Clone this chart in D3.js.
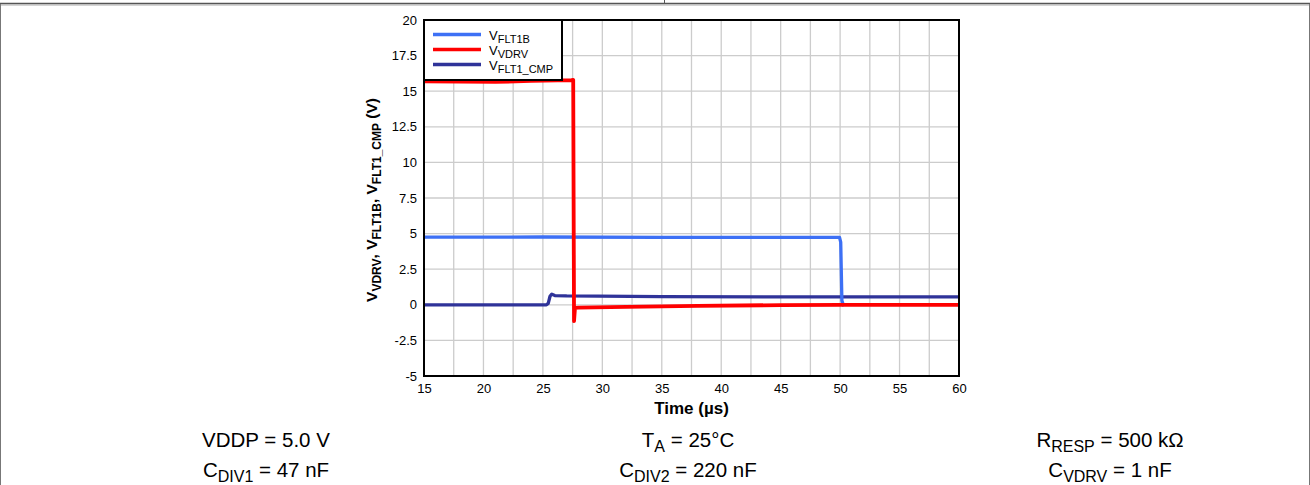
<!DOCTYPE html>
<html><head><meta charset="utf-8">
<script src="https://cdn.jsdelivr.net/npm/d3@7"></script>
<style>body{margin:0;background:#fff;}svg{display:block;font-family:Arial,"Liberation Sans",sans-serif;}</style>
</head><body>
<svg id="c" width="1310" height="485"></svg>
<script>
// ---- data ----
const xTicks = [15,20,25,30,35,40,45,50,55,60];
const yTicks = [-5,-2.5,0,2.5,5,7.5,10,12.5,15,17.5,20];
const gridX = d3.range(15, 60.01, 2.5);
const gridY = d3.range(-5, 20.01, 2.5);
const yTickLabels = ["-5","-2.5","0","2.5","5","7.5","10","12.5","15","17.5","20"];

const fltCmpT = [15, 20, 25.3, 25.45, 25.6, 25.75, 26, 27, 35, 45, 60];
const fltCmpV = [0, 0, 0, 0.1, 0.6, 0.75, 0.65, 0.62, 0.58, 0.56, 0.55];
const flt1bT = [15, 25, 35, 45, 49.95, 50.05, 50.15, 50.3];
const flt1bV = [4.75, 4.76, 4.74, 4.74, 4.73, 4.4, 0.3, -0.1];
const vdrvT = [15, 18, 21, 24, 27.4, 27.55, 27.62, 27.7, 28, 32, 38, 45, 50, 60];
const vdrvV = [15.7, 15.68, 15.65, 15.72, 15.78, 15.8, -1.15, -0.22, -0.2, -0.15, -0.08, -0.02, 0, 0];

const legendNames = [["V","FLT1B"],["V","VDRV"],["V","FLT1_CMP"]];
const colors = ["#3d70f5", "#ff0000", "#2f3399"];

// ---- chart ----
const svg = d3.select("#c");
const x = d3.scaleLinear().domain([15,60]).range([424,959]);
const y = d3.scaleLinear().domain([-5,20]).range([376,20]);

// frame lines
svg.append("line").attr("x1",0).attr("x2",1310).attr("y1",3.5).attr("y2",3.5).attr("stroke","#555").attr("stroke-width",1.5);
svg.append("line").attr("x1",0).attr("x2",1310).attr("y1",5).attr("y2",5).attr("stroke","#aaa").attr("stroke-width",1);
svg.append("line").attr("x1",664.5).attr("x2",664.5).attr("y1",0).attr("y2",3).attr("stroke","#555").attr("stroke-width",1);
svg.append("line").attr("x1",0.5).attr("x2",0.5).attr("y1",4).attr("y2",485).attr("stroke","#777").attr("stroke-width",1);
svg.append("line").attr("x1",1309.5).attr("x2",1309.5).attr("y1",4).attr("y2",485).attr("stroke","#777").attr("stroke-width",1);

// grid
svg.append("g").selectAll("line").data(gridX).join("line")
  .attr("x1",d=>x(d)).attr("x2",d=>x(d)).attr("y1",20).attr("y2",376)
  .attr("stroke","#cccccc").attr("stroke-width",1.3);
svg.append("g").selectAll("line").data(gridY).join("line")
  .attr("x1",424).attr("x2",959).attr("y1",d=>y(d)).attr("y2",d=>y(d))
  .attr("stroke","#cccccc").attr("stroke-width",1.3);

// axes
const xAxis = d3.axisBottom(x).tickValues(xTicks).tickSize(0).tickPadding(8).tickFormat(d3.format("d"));
const gx = svg.append("g").attr("transform","translate(0,376)").call(xAxis);
gx.select(".domain").remove();
gx.selectAll("text").attr("font-size","13px").attr("fill","#000").attr("font-family","Arial, 'Liberation Sans', sans-serif");
const yAxis = d3.axisLeft(y).tickValues(yTicks).tickSize(0).tickPadding(7).tickFormat((d,i)=>yTickLabels[i]);
const gy = svg.append("g").attr("transform","translate(424,0)").call(yAxis);
gy.select(".domain").remove();
gy.selectAll("text").attr("font-size","13px").attr("fill","#000").attr("font-family","Arial, 'Liberation Sans', sans-serif");

// series
const line = d3.line().x(d=>x(d[0])).y(d=>y(d[1]));
const series = [
  {t: fltCmpT, v: fltCmpV, c: colors[2], w: 3.3},
  {t: flt1bT, v: flt1bV, c: colors[0], w: 3.3},
  {t: vdrvT, v: vdrvV, c: colors[1], w: 3.8}
];
svg.append("clipPath").attr("id","pc").append("rect").attr("x",424).attr("y",20).attr("width",535).attr("height",356);
series.forEach(s=>{
  svg.append("path").attr("clip-path","url(#pc)")
    .attr("d", line(s.t.map((t,i)=>[t,s.v[i]])))
    .attr("fill","none").attr("stroke",s.c).attr("stroke-width",s.w).attr("stroke-linejoin","round");
});

// border
svg.append("rect").attr("x",424).attr("y",20).attr("width",535).attr("height",356)
  .attr("fill","none").attr("stroke","#000").attr("stroke-width",2);

// legend
const lg = svg.append("g");
lg.append("rect").attr("x",424).attr("y",20).attr("width",138).attr("height",60)
  .attr("fill","#fff").attr("stroke","#000").attr("stroke-width",2);
legendNames.forEach((n,i)=>{
  const yy = 34.5 + i*15;
  lg.append("line").attr("x1",433).attr("x2",481).attr("y1",yy).attr("y2",yy)
    .attr("stroke",colors[i]).attr("stroke-width",3.3);
  const t = lg.append("text").attr("x",489).attr("y",yy+5).attr("font-size","13px");
  t.append("tspan").text(n[0]);
  t.append("tspan").attr("font-size","11px").attr("dy",3).text(n[1]);
});

// axis titles
svg.append("text").attr("x",x(37.5)).attr("y",414).attr("text-anchor","middle")
  .attr("font-size","17px").attr("font-weight","bold").text("Time (µs)");
const yt = svg.append("text").attr("transform","translate(377,200) rotate(-90)")
  .attr("text-anchor","middle").attr("font-size","15.5px").attr("font-weight","bold");
[["V",""],["VDRV","s"],[", V",""],["FLT1B","s"],[", V",""],["FLT1_CMP","s"],[" (V)",""]].forEach((p,i,arr)=>{
  const ts = yt.append("tspan").text(p[0]);
  if (p[1]==="s") ts.attr("font-size","12px").attr("dy",3.5);
  else if (i>0 && arr[i-1][1]==="s") ts.attr("dy",-3.5);
});

// bottom annotations
const notes = [
  {cx:266, y:447, parts:[["VDDP = 5.0 V",""]]},
  {cx:266, y:477, parts:[["C",""],["DIV1","s"],[" = 47 nF",""]]},
  {cx:688, y:447, parts:[["T",""],["A","s"],[" = 25°C",""]]},
  {cx:688, y:477, parts:[["C",""],["DIV2","s"],[" = 220 nF",""]]},
  {cx:1110, y:447, parts:[["R",""],["RESP","s"],[" = 500 kΩ",""]]},
  {cx:1110, y:477, parts:[["C",""],["VDRV","s"],[" = 1 nF",""]]}
];
notes.forEach(n=>{
  const t = svg.append("text").attr("x",n.cx).attr("y",n.y).attr("text-anchor","middle").attr("font-size","20.5px");
  n.parts.forEach((p,i,arr)=>{
    const ts = t.append("tspan").text(p[0]);
    if (p[1]==="s") ts.attr("font-size","16px").attr("dy",5);
    else if (i>0 && arr[i-1][1]==="s") ts.attr("dy",-5);
  });
});
</script>
</body></html>
